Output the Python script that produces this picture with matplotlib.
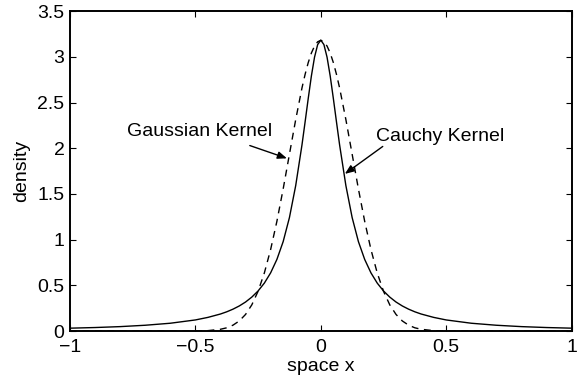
import matplotlib
matplotlib.use("Agg")
import matplotlib.pyplot as plt

plt.rcParams['font.family'] = ['Liberation Sans', 'DejaVu Sans']

# sample positions along the space axis
x = [-1.0, -0.9, -0.8, -0.7, -0.6, -0.5, -0.45, -0.4, -0.375, -0.35, -0.325,
     -0.3, -0.275, -0.25, -0.225, -0.2, -0.175, -0.15, -0.125, -0.1, -0.075,
     -0.0625, -0.05, -0.0375, -0.025, -0.0125, 0.0,
     0.0125, 0.025, 0.0375, 0.05, 0.0625, 0.075, 0.1, 0.125, 0.15, 0.175,
     0.2, 0.225, 0.25, 0.275, 0.3, 0.325, 0.35, 0.375, 0.4, 0.45, 0.5,
     0.6, 0.7, 0.8, 0.9, 1.0]

# Cauchy kernel density (solid)
cauchy = [0.032, 0.039, 0.049, 0.064, 0.086, 0.122, 0.150, 0.187, 0.211, 0.240, 0.275,
          0.318, 0.372, 0.439, 0.525, 0.637, 0.784, 0.979, 1.242, 1.592, 2.037,
          2.289, 2.546, 2.791, 2.996, 3.134, 3.183,
          3.134, 2.996, 2.791, 2.546, 2.289, 2.037, 1.592, 1.242, 0.979, 0.784,
          0.637, 0.525, 0.439, 0.372, 0.318, 0.275, 0.240, 0.211, 0.187, 0.150, 0.122,
          0.086, 0.064, 0.049, 0.039, 0.032]

# Gaussian kernel density (dashed)
gauss = [0.0, 0.0, 0.0, 0.0, 0.0, 0.001, 0.005, 0.020, 0.036, 0.065, 0.111,
         0.182, 0.287, 0.436, 0.636, 0.892, 1.201, 1.555, 1.935, 2.314, 2.660,
         2.809, 2.938, 3.042, 3.118, 3.165, 3.181,
         3.165, 3.118, 3.042, 2.938, 2.809, 2.660, 2.314, 1.935, 1.555, 1.201,
         0.892, 0.636, 0.436, 0.287, 0.182, 0.111, 0.065, 0.036, 0.020, 0.005, 0.001,
         0.0, 0.0, 0.0, 0.0, 0.0]

xticks = [-1, -0.5, 0, 0.5, 1]
xticklabels = ['\u22121', '\u22120.5', '0', '0.5', '1']
yticks = [0, 0.5, 1, 1.5, 2, 2.5, 3, 3.5]
yticklabels = ['0', '0.5', '1', '1.5', '2', '2.5', '3', '3.5']

fig = plt.figure(figsize=(5.78, 3.85), dpi=100)
ax = fig.add_axes([0.121, 0.140, 0.868, 0.831])

ax.plot(x, cauchy, color='black', lw=1.0, solid_capstyle='butt')
ax.plot(x, gauss, color='black', lw=1.0, linestyle=(0, (5, 4)))

ax.set_xlim(-1, 1)
ax.set_ylim(0, 3.5)
ax.set_xticks(xticks)
ax.set_xticklabels(xticklabels)
ax.set_yticks(yticks)
ax.set_yticklabels(yticklabels)

fs = 14
ax.tick_params(direction='in', length=4, width=0.8, top=True, right=True,
               labelsize=fs, colors='black')
ax.tick_params(axis='x', pad=6)
ax.tick_params(axis='y', pad=4)
for s in ax.spines.values():
    s.set_linewidth(1.4)

ax.set_xlabel('space x', fontsize=fs, labelpad=1)
ax.set_ylabel('density', fontsize=fs, labelpad=5)

arrow = dict(arrowstyle='-|>,head_length=0.55,head_width=0.22', color='black',
             lw=1.0, shrinkA=0, shrinkB=0)

ax.text(-0.482, 2.18, 'Gaussian Kernel', fontsize=fs, ha='center', va='center')
ax.annotate('', xy=(-0.135, 1.89), xytext=(-0.283, 2.03), arrowprops=arrow)

ax.text(0.474, 2.13, 'Cauchy Kernel', fontsize=fs, ha='center', va='center')
ax.annotate('', xy=(0.096, 1.72), xytext=(0.247, 2.02), arrowprops=arrow)

fig.savefig('out.png', dpi=100)
